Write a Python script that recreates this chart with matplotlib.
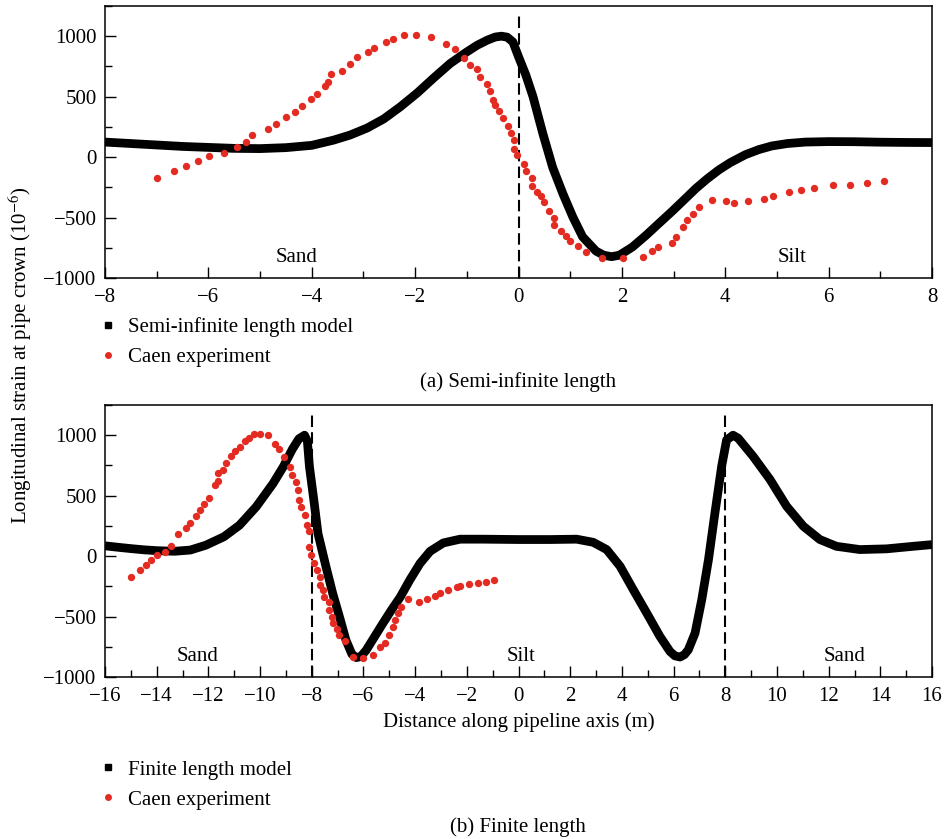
import matplotlib
matplotlib.use("Agg")
import matplotlib.pyplot as plt
from matplotlib.lines import Line2D
from matplotlib.ticker import MultipleLocator

plt.rcParams['font.family'] = ['Liberation Serif', 'DejaVu Serif']
plt.rcParams['mathtext.fontset'] = 'stix'

# (a) semi-infinite length model
semi_x = [-8, -7.5, -7, -6.5, -6, -5.5, -5, -4.5, -4, -3.58, -3.26, -2.93, -2.61,
          -2.29, -1.96, -1.64, -1.32, -1.0, -0.8, -0.6, -0.45, -0.33, -0.22, -0.11,
          0, 0.14, 0.28, 0.47, 0.66, 0.86, 1.05, 1.24, 1.5, 1.65, 1.8, 1.95, 2.2,
          2.46, 2.7, 2.98, 3.2, 3.43, 3.65, 3.88, 4.1, 4.39, 4.65, 4.9, 5.2, 5.55,
          6, 6.5, 7, 7.5, 8]
semi_y = [124, 112, 100, 88, 80, 72, 70, 78, 97, 140, 182, 240, 315,
          415, 530, 655, 775, 870, 925, 968, 993, 1000, 992, 953,
          830, 680, 500, 195, -85, -305, -495, -660, -778, -812, -824, -812, -745,
          -650, -555, -445, -355, -260, -180, -105, -45, 20, 62, 92, 112, 124,
          128, 127, 123, 121, 120]

# (a) Caen experiment
caen_a_x = [-7.0, -6.66, -6.44, -6.21, -5.98, -5.70, -5.44, -5.28, -5.15, -4.84,
            -4.69, -4.49, -4.33, -4.18, -4.02, -3.89, -3.74, -3.69, -3.62, -3.41,
            -3.26, -3.13, -2.92, -2.80, -2.56, -2.42, -2.21, -1.98, -1.69, -1.41,
            -1.23, -1.05, -0.93, -0.80, -0.75, -0.61, -0.56, -0.50, -0.46, -0.38,
            -0.30, -0.20, -0.15, -0.09, -0.09, -0.03, 0.10, 0.14, 0.26, 0.26,
            0.36, 0.44, 0.49, 0.59, 0.68, 0.69, 0.82, 0.92, 1.00, 1.15,
            1.31, 1.61, 2.02, 2.40, 2.58, 2.69, 2.96, 3.04, 3.19, 3.25,
            3.38, 3.49, 3.75, 4.01, 4.17, 4.44, 4.75, 4.93, 5.23, 5.47,
            5.72, 6.08, 6.42, 6.74, 7.07]
caen_a_y = [-171, -116, -75, -36, 8, 33, 83, 127, 182, 232,
            271, 331, 376, 423, 481, 519, 591, 622, 685, 713,
            773, 829, 870, 903, 948, 975, 1006, 1006, 994, 934,
            890, 823, 762, 727, 666, 608, 547, 470, 434, 378,
            326, 254, 199, 144, 69, 14, -61, -116, -171, -238,
            -285, -326, -370, -442, -500, -566, -608, -649, -696, -732,
            -787, -837, -837, -823, -779, -746, -713, -663, -580, -519,
            -470, -414, -356, -365, -378, -362, -343, -318, -293, -271,
            -254, -232, -227, -215, -196]

# (b) finite length model
fin_x = [-16, -15.5, -15, -14.5, -14, -13.3, -12.7, -12.1, -11.4, -10.8, -10.15,
         -9.5, -9.1, -8.75, -8.5, -8.28, -8.17, -8.09, -7.92, -7.76, -7.45, -7.19,
         -6.93, -6.68, -6.45, -6.28, -6.1, -5.9, -5.65, -5.26, -4.9, -4.58, -4.2,
         -3.81, -3.42, -2.91, -2.26, -1.36, 0, 1.22, 2.25, 2.89, 3.41, 3.93, 4.44,
         4.96, 5.47, 5.86, 6.05, 6.25, 6.42, 6.57, 6.83, 7.09, 7.35, 7.6, 7.86,
         8.05, 8.3, 8.5, 9.07, 9.73, 10.37, 11.02, 11.66, 12.3, 13.21, 14.24,
         15.27, 16]
fin_y = [85, 73, 62, 52, 45, 40, 50, 90, 160, 255, 408,
         600, 740, 885, 970, 1000, 950, 740, 463, 187, -88, -309,
         -501, -694, -810, -840, -830, -780, -694, -560, -440, -340, -195,
         -60, 40, 109, 140, 140, 137, 137, 140, 114, 54, -84, -278,
         -471, -664, -789, -825, -835, -815, -775, -637, -360, -29, 358, 744,
         960, 1000, 975, 827, 634, 413, 247, 137, 81, 54, 60,
         81, 95]

# (b) Caen experiment
caen_b_x = [-15.01, -14.66, -14.42, -14.21, -13.97, -13.68, -13.43, -13.17, -12.85, -12.71,
            -12.49, -12.33, -12.17, -11.99, -11.74, -11.64, -11.63, -11.43, -11.31, -11.13,
            -10.96, -10.79, -10.60, -10.43, -10.24, -9.99, -9.70, -9.43, -9.25, -9.08,
            -8.86, -8.77, -8.60, -8.54, -8.48, -8.41, -8.28, -8.19, -8.09, -8.09,
            -8.03, -7.90, -7.81, -7.70, -7.70, -7.58, -7.51, -7.34, -7.32, -7.21,
            -7.19, -7.04, -6.93, -6.70, -6.42, -6.01, -5.62, -5.35, -5.16, -5.00,
            -4.87, -4.77, -4.66, -4.53, -4.27, -3.87, -3.56, -3.24, -3.05, -2.71,
            -2.40, -2.28, -1.92, -1.58, -1.27, -0.93]
caen_b_y = [-171, -118, -72, -36, 8, 36, 83, 179, 231, 270,
            331, 380, 430, 482, 590, 623, 689, 716, 774, 826,
            871, 904, 950, 981, 1006, 1006, 1000, 931, 882, 821,
            738, 669, 614, 545, 463, 408, 339, 256, 207, 77,
            8, -61, -116, -171, -240, -281, -336, -377, -446, -501,
            -556, -606, -653, -702, -832, -840, -818, -749, -716, -653,
            -584, -529, -474, -419, -358, -377, -358, -331, -309, -281,
            -259, -248, -231, -226, -212, -198]

# soil zone labels: (x, text)
zones_a = [(-4.3, 'Sand'), (5.3, 'Silt')]
zones_b = [(-12.4, 'Sand'), (0.1, 'Silt'), (12.6, 'Sand')]
interfaces_a = [0]
interfaces_b = [-8, 8]

red = '#e32b22'
fs = 15

fig = plt.figure(figsize=(9.47, 8.39), dpi=100)
ax1 = fig.add_axes([0.1109, 0.6687, 0.8733, 0.3242])
ax2 = fig.add_axes([0.1109, 0.1931, 0.8733, 0.3242])


def style_axes(ax, xlim, xmajor):
    ax.set_xlim(*xlim)
    ax.set_ylim(-1000, 1250)
    ax.set_yticks([-1000, -500, 0, 500, 1000])
    ax.xaxis.set_major_locator(MultipleLocator(xmajor))
    ax.xaxis.set_minor_locator(MultipleLocator(xmajor / 2))
    ax.yaxis.set_minor_locator(MultipleLocator(250))
    ax.tick_params(which='both', direction='in', top=False, right=False,
                   labelsize=fs, width=1.0)
    ax.tick_params(axis='x', pad=7)
    ax.tick_params(axis='y', pad=6)
    ax.tick_params(which='major', length=8)
    ax.tick_params(which='minor', length=5)
    for s in ax.spines.values():
        s.set_linewidth(1.1)


def draw(ax, mx, my, ex, ey, zones, interfaces):
    for xi in interfaces:
        ax.axvline(xi, ymax=0.97, color='black', ls=(0, (5.5, 2.5)), lw=1.5, zorder=1)
    ax.plot(mx, my, color='black', lw=6.3, solid_capstyle='butt',
            solid_joinstyle='round', zorder=2)
    ax.plot(ex, ey, 'o', color=red, ms=5.3, mec='none', zorder=3)
    for zx, label in zones:
        ax.text(zx, -830, label, ha='center', va='center', fontsize=fs)


style_axes(ax1, (-8, 8), 2)
style_axes(ax2, (-16, 16), 2)
ax2.xaxis.set_minor_locator(MultipleLocator(1))

draw(ax1, semi_x, semi_y, caen_a_x, caen_a_y, zones_a, interfaces_a)
draw(ax2, fin_x, fin_y, caen_b_x, caen_b_y, zones_b, interfaces_b)

ax2.set_xlabel('Distance along pipeline axis (m)', fontsize=fs, labelpad=5)

fig.text(20 / 947, 1 - 355 / 839, r'Longitudinal strain at pipe crown (10$^{-6}$)',
         rotation=90, ha='center', va='center', fontsize=fs)


def add_legend(ax, model_label, y_top):
    handles = [
        Line2D([], [], color='black', marker='s', ls='none', ms=5),
        Line2D([], [], color=red, marker='o', ls='none', ms=5, mec='none'),
    ]
    ax.legend(handles, [model_label, 'Caen experiment'], loc='upper left',
              bbox_to_anchor=(100 / 947, 1 - y_top / 839),
              bbox_transform=fig.transFigure, frameon=False, fontsize=fs,
              handlelength=0.8, handletextpad=0.55, labelspacing=0.5,
              borderpad=0, borderaxespad=0)


add_legend(ax1, 'Semi-infinite length model', 317)
add_legend(ax2, 'Finite length model', 760)

fig.text(518 / 947, 1 - 382 / 839, '(a) Semi-infinite length', ha='center',
         va='center', fontsize=fs)
fig.text(518 / 947, 1 - 827 / 839, '(b) Finite length', ha='center',
         va='center', fontsize=fs)

fig.savefig('out.png', dpi=100)
